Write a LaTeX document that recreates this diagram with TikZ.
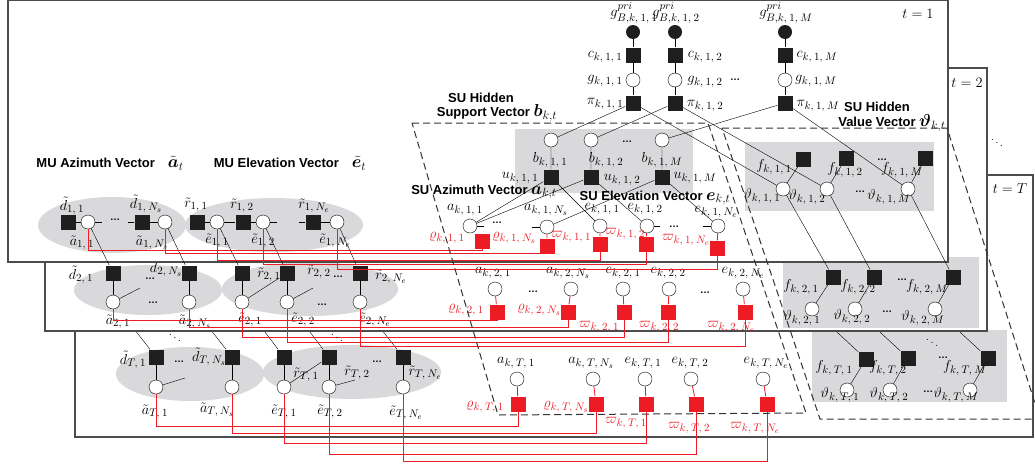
\documentclass[tikz,border=0pt]{standalone}
\usepackage{fontspec}
\usepackage{amsmath,bm}
\usetikzlibrary{positioning,calc}
\newfontfamily\hdfont{Liberation Sans}
\definecolor{fred}{RGB}{237,28,36}
\definecolor{boxgray}{RGB}{217,217,219}
% spaced subscripts k, t, n
\newcommand{\ids}[3]{#1,\mkern4mu#2,\mkern4mu#3}
\newcommand{\idt}[2]{#1,\mkern4mu#2}
% larger bold symbol in the group titles
\newcommand{\bigsym}[1]{{\fontsize{17}{17}\selectfont$#1$}}
\pgfdeclarelayer{sheetT}\pgfdeclarelayer{sheet2}\pgfdeclarelayer{sheet1}
\pgfsetlayers{sheetT,sheet2,sheet1,main}

\begin{document}
\begin{tikzpicture}[x=1pt,y=-1pt,line width=0.8pt,
  every node/.style={font=\fontsize{15.5}{17}\selectfont},
  lb/.style={inner sep=0pt},
  rd/.style={inner sep=0pt,text=fred},
  vn/.style={circle,draw,fill=white,minimum size=14pt,inner sep=0pt},
  pn/.style={circle,fill=black!88,minimum size=14pt,inner sep=0pt},
  fn/.style={rectangle,fill=black!88,minimum size=15pt,inner sep=0pt},
  rn/.style={rectangle,fill=fred,minimum size=15pt,inner sep=0pt},
  rl/.style={draw=fred,line width=0.8pt},
  sheet/.style={draw=black!70,line width=1.2pt,fill=white},
  area/.style={draw=black!80,line width=1pt,dash pattern=on 7pt off 4pt},
  ttl/.style={inner sep=0pt,font=\hdfont\bfseries\fontsize{13}{15}\selectfont},
  dt/.style={inner sep=0pt,font=\hdfont\bfseries\fontsize{10}{10}\selectfont},
  ddt/.style={inner sep=0pt,font=\fontsize{12}{12}\selectfont}]
\useasboundingbox (0,0) rectangle (1035,469);

%%%%%%%%%%%%%%%% frame t = T (back)
\begin{pgfonlayer}{sheetT}
\draw[sheet] (75,175) rectangle (1033,437);
\node[lb] (tT) at (1010,189) {$t=T$};
\fill[boxgray] (812,330) rectangle (1007,402);
\fill[boxgray] (190,374) ellipse [x radius=74pt,y radius=27pt];
\fill[boxgray] (352,372) ellipse [x radius=89pt,y radius=27pt];
% MU chains
\node[fn] (mdT1) at (156,357) {}; \node[vn] (maT1) at (156,387) {};
\node[fn] (mdTN) at (232,357) {}; \node[vn] (maTN) at (232,387) {};
\node[fn] (mrT1) at (284,357) {}; \node[vn] (meT1) at (284,387) {};
\node[fn] (mrT2) at (329,357) {}; \node[vn] (meT2) at (329,387) {};
\node[fn] (mrTN) at (403,357) {}; \node[vn] (meTN) at (403,387) {};
\draw (mdT1)--(maT1) (mdTN)--(maTN) (mrT1)--(meT1) (mrT2)--(meT2) (mrTN)--(meTN);
\draw (maT1)--++(29,-9) (meT1)--(mrT2) (meT2)--++(26,-7);
\node[lb] (lmdT1) at (133,360) {$\tilde d_{\idt{T}{1}}$};
\node[dt] (ldmdT) at (179,362) {…};
\node[lb] (lmdTN) at (209,357) {$\tilde d_{\idt{T}{N_s}}$};
\node[lb] (lmrT1) at (306,375) {$\tilde r_{\idt{T}{1}}$};
\node[lb] (lmrT2) at (357,373) {$\tilde r_{\idt{T}{2}}$};
\node[dt] (ldmrT) at (377,362) {…};
\node[lb] (lmrTN) at (425,373) {$\tilde r_{\idt{T}{N_e}}$};
\node[lb] (lmaT1) at (155,412) {$\tilde a_{\idt{T}{1}}$};
\node[lb] (lmaTN) at (217,410) {$\tilde a_{\idt{T}{N_s}}$};
\node[lb] (lmeT1) at (284,412) {$\tilde e_{\idt{T}{1}}$};
\node[lb] (lmeT2) at (330,412) {$\tilde e_{\idt{T}{2}}$};
\node[lb] (lmeTN) at (406,413) {$\tilde e_{\idt{T}{N_e}}$};
% SU variables and red factors
\node[vn] (saT1) at (517,379) {}; \node[vn] (saTN) at (593,379) {};
\node[vn] (seT1) at (645,379) {}; \node[vn] (seT2) at (691,379) {};
\node[vn] (seTN) at (763,379) {};
\node[rn] (qT1) at (518,404) {}; \node[rn] (qTN) at (596,404) {};
\node[rn] (wT1) at (646,404) {}; \node[rn] (wT2) at (696,404) {};
\node[rn] (wTN) at (767,404) {};
\draw[rl] (saT1)--(qT1) (saTN)--(qTN) (seT1)--(wT1) (seT2)--(wT2) (seTN)--(wTN);
\node[lb] (lsaT1) at (516,363) {$a_{\ids{k}{T}{1}}$};
\node[lb] (lsaTN) at (591,363) {$a_{\ids{k}{T}{N_s}}$};
\node[lb] (lseT1) at (643,363) {$e_{\ids{k}{T}{1}}$};
\node[lb] (lseT2) at (690,363) {$e_{\ids{k}{T}{2}}$};
\node[lb] (lseTN) at (766,363) {$e_{\ids{k}{T}{N_e}}$};
\node[rd] (lqT1) at (485,407) {$\varrho_{\ids{k}{T}{1}}$};
\node[rd] (lqTN) at (566,407) {$\varrho_{\ids{k}{T}{N_s}}$};
\node[rd] (lwT1) at (626,423) {$\varpi_{\ids{k}{T}{1}}$};
\node[rd] (lwT2) at (689,428) {$\varpi_{\ids{k}{T}{2}}$};
\node[rd] (lwTN) at (755,428) {$\varpi_{\ids{k}{T}{N_e}}$};
\draw[rl] (maT1.south) -- (maT1.south |- 0,426) -| (qT1.south);
\draw[rl] (maTN.south) -- (maTN.south |- 0,433) -| (qTN.south);
\draw[rl] (meT1.south) -- (meT1.south |- 0,443) -| (wT1.south);
\draw[rl] (meT2.south) -- (meT2.south |- 0,454) -| (wT2.south);
\draw[rl] (meTN.south) -- (meTN.south |- 0,461) -| (wTN.south);
% hidden values
\node[fn] (fT1) at (866,359) {}; \node[vn] (vT1) at (847,390) {};
\node[fn] (fT2) at (908,358) {}; \node[vn] (vT2) at (890,390) {};
\node[fn] (fTM) at (988,358) {}; \node[vn] (vTM) at (970,390) {};
\draw (fT1)--(vT1) (fT2)--(vT2) (fTM)--(vTM);
\node[lb] (lfT1) at (834,368) {$f_{\ids{k}{T}{1}}$};
\node[lb] (lfT2) at (888,368) {$f_{\ids{k}{T}{2}}$};
\node[dt] (ldfT) at (943,358) {…};
\node[lb] (lfTM) at (965,368) {$f_{\ids{k}{T}{M}}$};
\node[lb] (lvT1) at (840,395) {$\vartheta_{\ids{k}{T}{1}}$};
\node[lb] (lvT2) at (889,395) {$\vartheta_{\ids{k}{T}{2}}$};
\node[dt] (ldvT) at (928,392) {…};
\node[lb] (lvTM) at (956,395) {$\vartheta_{\ids{k}{T}{M}}$};
\end{pgfonlayer}

%%%%%%%%%%%%%%%% frame t = 2
\begin{pgfonlayer}{sheet2}
\draw[sheet] (45,68) rectangle (987,331);
\node[lb] (t2) at (967,83) {$t=2$};
\fill[boxgray] (783,257) rectangle (979,328);
\fill[boxgray] (148,290) ellipse [x radius=74pt,y radius=25pt];
\fill[boxgray] (310,289) ellipse [x radius=88pt,y radius=27pt];
% MU chains
\node[fn] (md21) at (113,273) {}; \node[vn] (ma21) at (113,302) {};
\node[fn] (md2N) at (189,273) {}; \node[vn] (ma2N) at (189,302) {};
\node[fn] (mr21) at (242,273) {}; \node[vn] (me21) at (242,302) {};
\node[fn] (mr22) at (287,273) {}; \node[vn] (me22) at (287,302) {};
\node[fn] (mr2N) at (360,273) {}; \node[vn] (me2N) at (360,302) {};
\draw (md21)--(ma21) (md2N)--(ma2N) (mr21)--(me21) (mr22)--(me22) (mr2N)--(me2N);
\draw (ma21)--++(27,-14) (me21)--(mr22) (me22)--++(26,-14);
\node[lb] (lmd21) at (81,275) {$\tilde d_{\idt{2}{1}}$};
\node[dt] (ldmd2) at (150,279) {…};
\node[lb] (lmd2N) at (166,268) {$\tilde d_{\idt{2}{N_s}}$};
\node[lb] (lmr21) at (269,275) {$\tilde r_{\idt{2}{1}}$};
\node[lb] (lmr22) at (319,272) {$\tilde r_{\idt{2}{2}}$};
\node[dt] (ldmr2) at (338,277) {…};
\node[lb] (lmr2N) at (391,277) {$\tilde r_{\idt{2}{N_e}}$};
\node[dt] (ldma2) at (153,303) {…};
\node[dt] (ldme2) at (322,305) {…};
\node[lb] (lma21) at (118,322) {$\tilde a_{\idt{2}{1}}$};
\node[lb] (lma2N) at (195,322) {$\tilde a_{\idt{2}{N_s}}$};
\node[lb] (lme21) at (250,320) {$\tilde e_{\idt{2}{1}}$};
\node[lb] (lme22) at (303,320) {$\tilde e_{\idt{2}{2}}$};
\node[lb] (lme2N) at (375,320) {$\tilde e_{\idt{2}{N_e}}$};
% SU variables and red factors
\node[vn] (sa21) at (495,289) {}; \node[vn] (sa2N) at (571,289) {};
\node[vn] (se21) at (623,289) {}; \node[vn] (se22) at (669,289) {};
\node[vn] (se2N) at (743,289) {};
\node[rn] (q21) at (497,312) {}; \node[rn] (q2N) at (568,312) {};
\node[rn] (w21) at (624,312) {}; \node[rn] (w22) at (668,312) {};
\node[rn] (w2N) at (745,312) {};
\draw[rl] (sa21)--(q21) (sa2N)--(q2N) (se21)--(w21) (se22)--(w22) (se2N)--(w2N);
\node[lb] (lsa21) at (493,273) {$a_{\ids{k}{2}{1}}$};
\node[lb] (lsa2N) at (568,273) {$a_{\ids{k}{2}{N_s}}$};
\node[lb] (lse21) at (623,273) {$e_{\ids{k}{2}{1}}$};
\node[lb] (lse22) at (668,273) {$e_{\ids{k}{2}{2}}$};
\node[lb] (lse2N) at (743,273) {$e_{\ids{k}{2}{N_e}}$};
\node[dt] (ldsa2) at (533,292) {…};
\node[dt] (ldse2) at (705,293) {…};
\node[rd] (lq21) at (466,310) {$\varrho_{\ids{k}{2}{1}}$};
\node[rd] (lq2N) at (539,310) {$\varrho_{\ids{k}{2}{N_s}}$};
\node[rd] (lw21) at (599,327) {$\varpi_{\ids{k}{2}{1}}$};
\node[rd] (lw22) at (659,327) {$\varpi_{\ids{k}{2}{2}}$};
\node[rd] (lw2N) at (731,327) {$\varpi_{\ids{k}{2}{N_e}}$};
\draw[rl] (ma21.south) -- (ma21.south |- 0,320) -| (q21.south);
\draw[rl] (ma2N.south) -- (ma2N.south |- 0,327) -| (q2N.south);
\draw[rl] (me21.south) -- (me21.south |- 0,337) -| (w21.south);
\draw[rl] (me22.south) -- (me22.south |- 0,342) -| (w22.south);
\draw[rl] (me2N.south) -- (me2N.south |- 0,346) -| (w2N.south);
% hidden values
\node[fn] (f21) at (833,277) {}; \node[vn] (v21) at (812,309) {};
\node[fn] (f22) at (874,277) {}; \node[vn] (v22) at (855,309) {};
\node[fn] (f2M) at (953,277) {}; \node[vn] (v2M) at (935,309) {};
\draw (f21)--(v21) (f22)--(v22) (f2M)--(v2M);
\node[lb] (lf21) at (801,287) {$f_{\ids{k}{2}{1}}$};
\node[lb] (lf22) at (858,287) {$f_{\ids{k}{2}{2}}$};
\node[dt] (ldf2) at (902,280) {…};
\node[lb] (lf2M) at (927,287) {$f_{\ids{k}{2}{M}}$};
\node[lb] (lv21) at (802,318) {$\vartheta_{\ids{k}{2}{1}}$};
\node[lb] (lv22) at (852,317) {$\vartheta_{\ids{k}{2}{2}}$};
\node[dt] (ldv2) at (887,312) {…};
\node[lb] (lv2M) at (923,318) {$\vartheta_{\ids{k}{2}{M}}$};
\end{pgfonlayer}

% links t=2 -> t=T, partly behind frame 2
\begin{pgfonlayer}{sheetT}
\draw (ma21)--(mdT1) (ma2N)--(mdTN) (me21)--(mrT1) (me22)--(mrT2) (me2N)--(mrTN);
\draw (v21)--(fT1) (v22)--(fT2) (v2M)--(fTM);
\end{pgfonlayer}

%%%%%%%%%%%%%%%% frame t = 1 (front)
\begin{pgfonlayer}{sheet1}
\draw[sheet] (8,0.5) rectangle (948,262);
\node[lb] (t1) at (918,14) {$t=1$};
\fill[boxgray] (515,129) rectangle (693,193);
\fill[boxgray] (745,142) rectangle (934,211);
\fill[boxgray] (112,225) ellipse [x radius=74pt,y radius=28pt];
\fill[boxgray] (274,225) ellipse [x radius=89pt,y radius=27pt];
% prior chains
\foreach \c/\x in {1/633,2/675,M/785}{
  \node[pn] (gp\c) at (\x,32) {};
  \node[fn] (c\c) at (\x,55) {};
  \node[vn] (g\c) at (\x,80) {};
  \node[fn] (p\c) at (\x,103) {};
  \draw (gp\c)--(c\c) (c\c)--(g\c) (g\c)--(p\c);
  \node[lb] (lgp\c) at (\x+1,13) {$g^{pri}_{B,\ids{k}{1}{\c}}$};
}
\node[lb] (lc1) at (605,57) {$c_{\ids{k}{1}{1}}$};
\node[lb] (lc2) at (705,57) {$c_{\ids{k}{1}{2}}$};
\node[lb] (lcM) at (817,57) {$c_{\ids{k}{1}{M}}$};
\node[lb] (lg1) at (605,81) {$g_{\ids{k}{1}{1}}$};
\node[lb] (lg2) at (705,82) {$g_{\ids{k}{1}{2}}$};
\node[dt] (ldg) at (735,80) {…};
\node[lb] (lgM) at (816,81) {$g_{\ids{k}{1}{M}}$};
\node[lb] (lp1) at (605,104) {$\pi_{\ids{k}{1}{1}}$};
\node[lb] (lp2) at (705,106) {$\pi_{\ids{k}{1}{2}}$};
\node[lb] (lpM) at (818,106) {$\pi_{\ids{k}{1}{M}}$};
% support vector
\foreach \c/\x in {1/551,2/591,M/662}{
  \node[vn] (b\c) at (\x,140) {};
  \node[fn] (u\c) at (\x,177) {};
  \draw (b\c)--(u\c) (p\c)--(b\c);
}
\node[dt] (ldb) at (627,142) {…};
\node[lb] (lb1) at (550,160) {$b_{\ids{k}{1}{1}}$};
\node[lb] (lb2) at (606,160) {$b_{\ids{k}{1}{2}}$};
\node[lb] (lbM) at (662,160) {$b_{\ids{k}{1}{M}}$};
\node[lb] (lu1) at (520,178) {$u_{\ids{k}{1}{1}}$};
\node[lb] (lu2) at (622,180) {$u_{\ids{k}{1}{2}}$};
\node[lb] (luM) at (695,178) {$u_{\ids{k}{1}{M}}$};
% SU variables and red factors
\node[vn] (sa11) at (470,226) {}; \node[vn] (sa1N) at (547,227) {};
\node[vn] (se11) at (600,226) {}; \node[vn] (se12) at (647,226) {};
\node[vn] (se1N) at (718,226) {};
\node[rn] (q11) at (482,241) {}; \node[rn] (q1N) at (547,246) {};
\node[rn] (w11) at (600,244) {}; \node[rn] (w12) at (646,244) {};
\node[rn] (w1N) at (717,248) {};
\draw[rl] (sa1N)--(q1N) (se11)--(w11) (se12)--(w12) (se1N)--(w1N);
\draw (sa11)--++(14,0) (sa1N)--++(-15,0) (se12)--++(13,0) (se1N)--++(-15,0);
\draw (u1)--(sa11) (u1)--(se11) (u2)--(sa11) (u2)--(se12) (uM)--(sa1N) (uM)--(se1N);
\node[lb] (lsa11) at (465,210) {$a_{\ids{k}{1}{1}}$};
\node[lb] (lsa1N) at (546,210) {$a_{\ids{k}{1}{N_s}}$};
\node[lb] (lse11) at (602,209) {$e_{\ids{k}{1}{1}}$};
\node[lb] (lse12) at (645,209) {$e_{\ids{k}{1}{2}}$};
\node[lb] (lse1N) at (716,212) {$e_{\ids{k}{1}{N_e}}$};
\node[dt] (ldsa1) at (497,223) {…};
\node[dt] (ldse1) at (674,227) {…};
\node[rd] (lq11) at (447,238) {$\varrho_{\ids{k}{1}{1}}$};
\node[rd] (lq1N) at (514,238) {$\varrho_{\ids{k}{1}{N_s}}$};
\node[rd] (lw11) at (571,237) {$\varpi_{\ids{k}{1}{1}}$};
\node[rd] (lw12) at (625,234) {$\varpi_{\ids{k}{1}{2}}$};
\node[rd] (lw1N) at (686,240) {$\varpi_{\ids{k}{1}{N_e}}$};
% hidden values
\node[fn] (f11) at (803,159) {}; \node[vn] (v11) at (783,189) {};
\node[fn] (f12) at (846,158) {}; \node[vn] (v12) at (827,189) {};
\node[fn] (f1M) at (925,158) {}; \node[vn] (v1M) at (908,189) {};
\draw (f11)--(v11) (f12)--(v12) (f1M)--(v1M);
\draw (p1)--(v11) (p2)--(v12) (pM)--(v1M);
\node[lb] (lf11) at (774,167) {$f_{\ids{k}{1}{1}}$};
\node[lb] (lf12) at (845,170) {$f_{\ids{k}{1}{2}}$};
\node[dt] (ldf1) at (882,160) {…};
\node[lb] (lf1M) at (902,170) {$f_{\ids{k}{1}{M}}$};
\node[lb] (lv11) at (762,196) {$\vartheta_{\ids{k}{1}{1}}$};
\node[lb] (lv12) at (807,197) {$\vartheta_{\ids{k}{1}{2}}$};
\node[dt] (ldv1) at (860,192) {…};
\node[lb] (lv1M) at (889,197) {$\vartheta_{\ids{k}{1}{M}}$};
% MU chains
\node[fn] (md11) at (68,222) {}; \node[vn] (ma11) at (88,222) {};
\node[fn] (md1N) at (142,222) {}; \node[vn] (ma1N) at (165,222) {};
\node[fn] (mr11) at (197,222) {}; \node[vn] (me11) at (217,222) {};
\node[fn] (mr12) at (243,222) {}; \node[vn] (me12) at (263,222) {};
\node[fn] (mr1N) at (313,222) {}; \node[vn] (me1N) at (337,222) {};
\draw (md11)--(ma11) (ma11)--++(14,0) (md1N)--++(-14,0) (md1N)--(ma1N);
\draw (mr11)--(me11) (me11)--(mr12) (mr12)--(me12) (me12)--++(14,0) (mr1N)--++(-14,0) (mr1N)--(me1N);
\node[dt] (ldmd1) at (115,220) {…};
\node[lb] (lmd11) at (72,206) {$\tilde d_{\idt{1}{1}}$};
\node[lb] (lmd1N) at (146,204) {$\tilde d_{\idt{1}{N_s}}$};
\node[lb] (lmr11) at (196,205) {$\tilde r_{\idt{1}{1}}$};
\node[lb] (lmr12) at (242,206) {$\tilde r_{\idt{1}{2}}$};
\node[lb] (lmr1N) at (314,206) {$\tilde r_{\idt{1}{N_e}}$};
\node[lb] (lma11) at (82,243) {$\tilde a_{\idt{1}{1}}$};
\node[lb] (lma1N) at (152,243) {$\tilde a_{\idt{1}{N_s}}$};
\node[lb] (lme11) at (217,241) {$\tilde e_{\idt{1}{1}}$};
\node[lb] (lme12) at (263,241) {$\tilde e_{\idt{1}{2}}$};
\node[lb] (lme1N) at (335,241) {$\tilde e_{\idt{1}{N_e}}$};
% group titles
\node[ttl] (hma) at (110,163) {MU Azimuth Vector\quad\bigsym{\tilde{\bm a}_t}};
\node[ttl] (hme) at (290,163) {MU Elevation Vector\quad\bigsym{\tilde{\bm e}_t}};
\node[ttl] (hsb1) at (481,98) {SU Hidden};
\node[ttl] (hsb2) at (497,113) {Support Vector \bigsym{\bm b_{k,t}}};
\node[ttl] (hsv1) at (877,107) {SU Hidden};
\node[ttl] (hsv2) at (892,123) {Value Vector \bigsym{\bm\vartheta_{k,t}}};
\node[ttl] (hsa) at (484,192) {SU Azimuth Vector \bigsym{\bm a_{k,t}}};
\node[ttl] (hse) at (655,198) {SU Elevation Vector \bigsym{\bm e_{k,t}}};
\end{pgfonlayer}

%%%%%%%%%%%%%%%% links t=1 -> t=2 and MU -> SU wiring of frame 1
\draw (ma11)--(md21) (ma1N)--(md2N) (me11)--(mr21) (me12)--(mr22) (me1N)--(mr2N);
\draw (v11)--(f21) (v12)--(f22) (v1M)--(f2M);
\draw[rl] (ma11.south) -- (ma11.south |- 0,250) -| (q11.south);
\draw[rl] (ma1N.south) -- (ma1N.south |- 0,253) -| (q1N.south);
\draw[rl] (me11.south) -- (me11.south |- 0,260) -| (w11.south);
\draw[rl] (me12.south) -- (me12.south |- 0,264) -| (w12.south);
\draw[rl] (me1N.south) -- (me1N.south |- 0,269) -| (w1N.south);

% dashed groups across the frames
\draw[area] (412,123) -- (708,123) -- (806,413) -- (498,415) -- cycle;
\draw[area] (722,128) -- (947,128) -- (1040,419) -- (820,419) -- cycle;

\node[ddt] (dd1) at (175,335) {$\ddots$};
\node[ddt] (dd2) at (337,335) {$\ddots$};
\node[ddt] (dd3) at (932,340) {$\ddots$};
\node[ddt] (dd4) at (997,140) {$\ddots$};
\end{tikzpicture}
\end{document}
